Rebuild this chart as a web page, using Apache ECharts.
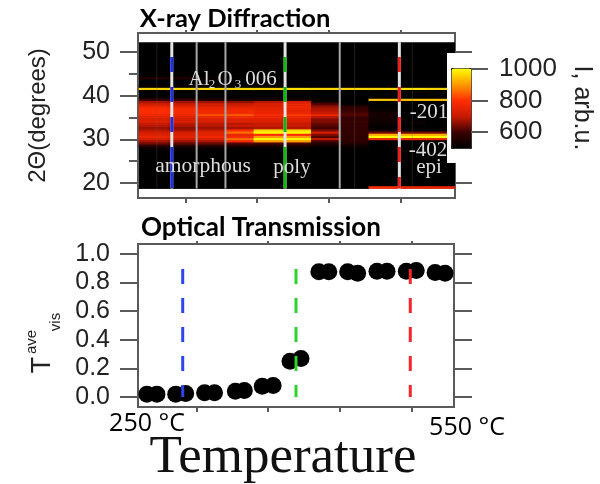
<!DOCTYPE html>
<html><head><meta charset="utf-8">
<style>html,body{margin:0;padding:0;background:#fff}#c{width:600px;height:484px}</style>
<script src="https://cdn.jsdelivr.net/npm/echarts@6/dist/echarts.min.js"></script>
</head><body><div id="c"></div>
<script>
// --- data ---
const thetaRows = [44,42,41.5,41,39.5,39,38.5,38,37.5,37,36.5,36,35.5,35,34.5,34,33.5,33,32.5,32,31.5,31,30.5,30,29.5,29,28.5,28,19];
const col0  = [555,510,960,510,520,600,680,720,760,790,790,790,780,760,730,740,700,690,670,690,720,740,760,730,680,640,580,530,500];
const col1  = [550,510,960,510,520,590,670,710,750,780,780,780,770,750,720,730,690,680,660,680,720,735,750,720,670,630,570,520,500];
const col2  = [520,510,960,510,510,560,670,720,740,760,770,775,830,770,730,730,690,690,670,700,745,745,770,735,680,630,570,520,500];
const col3  = [510,505,960,505,510,550,660,710,740,760,775,775,840,780,740,735,690,700,680,800,860,760,780,860,790,620,560,510,500];
const col4  = [500,505,960,505,510,540,690,740,745,750,760,765,790,770,740,730,700,700,690,960,1000,800,900,1000,900,610,550,510,500];
const col5  = [500,505,970,505,510,550,720,770,770,760,750,760,810,770,740,730,700,700,690,960,1000,800,900,1000,900,610,550,510,500];
const col6  = [500,505,960,505,500,510,540,620,660,680,690,700,770,690,650,650,630,620,610,650,715,650,620,700,610,560,530,500,500];
const col7  = [500,505,960,505,500,500,500,510,570,590,600,610,620,600,590,600,590,590,590,590,590,590,580,590,580,560,530,510,500];
const col8  = [500,505,960,505,500,940,510,500,500,510,520,540,540,540,530,530,520,510,510,540,640,920,1000,760,510,500,500,500,790];
const col9  = [500,505,970,505,500,940,510,500,500,500,500,500,500,500,500,520,510,500,500,520,640,920,1000,760,510,500,500,500,760];
const col10 = [500,505,960,505,500,940,510,500,500,500,500,500,500,500,500,500,500,500,500,510,640,920,1000,760,510,500,500,500,760];
const heatColumns = [col0,col1,col2,col3,col4,col5,col6,col7,col8,col9,col10];

const tempPoints = [250,260,279,289,308,318,339,348,366,377,394,405,423,433,452,462,481.5,491.6,511,521,540,550];
const transmission = [.02,.02,.02,.025,.03,.03,.04,.045,.075,.08,.25,.27,.876,.876,.876,.865,.88,.88,.88,.885,.87,.865];
const tempTicks = [300,372,444,516];
const thetaTicks = [20,30,40,50];
const thetaMinorTicks = [25,35,45];
const thetaRightTicks = [20,50];
const transTicks = [0,.2,.4,.6,.8,1];
const phaseTemps = [286,400,515];
const phaseColors = ['#1f2fe0','#12b812','#e8201c'];
const brightLines = [311,340,455];
const faintLines = [271,470,528];
const heatStops = ['#000000','#380000','#c81a00','#ff2e00','#ff9a00','#ffff00'];

// --- layout ---
const frame = '#5a5a5a', ink = '#222';
const sans = '"Liberation Sans"', serif = '"Liberation Serif"', head = 'Lato';
const heatData = [];
heatColumns.forEach((col,i)=>col.forEach((v,j)=>heatData.push([i,String(thetaRows[j]),v])));
const rowCats = []; for(let r=19;r<=52;r+=0.5) rowCats.push(String(r));

function tickAxis(extra, len, values){
  return Object.assign({
    type:'value', axisLine:{show:false,onZero:false}, splitLine:{show:false},
    axisTick:{show:true, length:len, customValues:values, lineStyle:{color:frame,width:2}},
    axisLabel:{show:false, customValues:values}
  }, extra);
}
function labelled(ax, fmt){
  ax.axisLabel = {show:true, customValues:ax.axisLabel.customValues, margin:28,
    fontFamily:sans, fontSize:25, color:ink, formatter:fmt};
  return ax;
}
const topX=[252,571], botX=[241,559], topY=[16.57,54.35], botY=[-0.07,1.07];
const series = [];
series.push({type:'heatmap', xAxisIndex:2, yAxisIndex:3, data:heatData, z:2, silent:true, progressive:0});
const vline=(t,y0,y1,color,width,dash,z,op)=>({type:'line', xAxisIndex:0, yAxisIndex:0, data:[[t,y0],[t,y1]],
  symbol:'none', silent:true, z, animation:false, clip:false,
  lineStyle:{color,width,type:dash||'solid',cap:'butt',opacity:op==null?1:op}});
faintLines.forEach(t=>series.push(vline(t,52.25,18.75,'#666',1,null,3,0.3)));
brightLines.forEach(t=>series.push(vline(t,52.25,18.75,'#a8a8a8',2,null,3)));
phaseTemps.forEach(t=>series.push(vline(t,52.25,18.75,'#e4e4e4',3,null,4)));
const topDash=[[15,15,15,15,15,15,41],[15,15,15,15,15,15,41],[15,15,15,15,15,15,15,15,11]];
phaseTemps.forEach((t,i)=>series.push(vline(t,48.85,18.75,phaseColors[i],3,topDash[i],5)));
series.push({type:'scatter', xAxisIndex:3, yAxisIndex:5, data:tempPoints.map((t,i)=>[t,transmission[i]]),
  symbolSize:17, itemStyle:{color:'#000',opacity:1}, z:3, silent:true, clip:false});
phaseTemps.forEach((t,i)=>series.push({type:'line', xAxisIndex:3, yAxisIndex:5, data:[[t,.895],[t,0]], symbol:'none',
  silent:true, z:5, lineStyle:{color:['#2b46f0','#2bd32b','#f5262a'][i],width:3,type:[15,14]}}));

const T=(text,x,y,font,opt)=>Object.assign({type:'text',x,y,z:90,silent:true,
  style:Object.assign({text,font,fill:'#ddd',align:'center',verticalAlign:'middle'},opt&&opt.style||{})},opt&&opt.el||{});

const option = {
  animation:false,
  backgroundColor:'#fff',
  grid:[
    {left:138,top:33,width:317,height:165,show:true,backgroundColor:'#fff',borderColor:frame,borderWidth:2,z:0},
    {left:139,top:42.2,width:316,height:146.4,show:true,backgroundColor:'#000',borderWidth:0,z:1},
    {left:138,top:244,width:316,height:163,show:true,backgroundColor:'#fff',borderColor:frame,borderWidth:2,z:0},
    {left:451,top:69,width:20,height:63,show:false}
  ],
  xAxis:[
    tickAxis({gridIndex:0,position:'bottom',min:topX[0],max:topX[1]},5,tempTicks),
    tickAxis({gridIndex:0,position:'top',min:topX[0],max:topX[1]},3,tempTicks),
    {gridIndex:1,type:'category',data:heatColumns.map((c,i)=>String(i)),show:false},
    tickAxis({gridIndex:2,position:'bottom',min:botX[0],max:botX[1]},5,tempTicks),
    tickAxis({gridIndex:2,position:'top',min:botX[0],max:botX[1]},3,tempTicks),
    {gridIndex:3,type:'value',min:0,max:1,show:false}
  ],
  yAxis:[
    Object.assign(labelled(tickAxis({gridIndex:0,position:'left',min:topY[0],max:topY[1]},18,thetaTicks)),
      {name:'2\u0398(degrees)',nameLocation:'middle',nameGap:88,nameRotate:90,nameTextStyle:{fontFamily:sans,fontSize:24,color:ink}}),
    tickAxis({gridIndex:0,position:'right',min:topY[0],max:topY[1]},17,thetaRightTicks),
    tickAxis({gridIndex:0,position:'left',min:topY[0],max:topY[1]},9,thetaMinorTicks),
    {gridIndex:1,type:'category',data:rowCats,show:false},
    labelled(tickAxis({gridIndex:2,position:'left',min:botY[0],max:botY[1]},18,transTicks),v=>v.toFixed(1)),
    tickAxis({gridIndex:2,position:'right',min:botY[0],max:botY[1]},18,transTicks),
    {gridIndex:3,type:'value',position:'right',min:600,max:1000,interval:200,z:200,
      axisLine:{show:false,onZero:false},splitLine:{show:false},
      axisTick:{show:true,length:17,lineStyle:{color:frame,width:2}},
      axisLabel:{show:true,margin:28,fontFamily:sans,fontSize:26,color:ink,formatter:v=>String(v)}}
  ],
  visualMap:{type:'continuous',seriesIndex:0,min:500,max:1000,left:451,top:68,itemWidth:20,itemHeight:80,
    padding:0,text:null,calculable:false,hoverLink:false,showLabel:false,borderColor:'#111',borderWidth:1,z:200,
    inRange:{color:heatStops}},
  series,
  graphic:{elements:[
    {type:'rect',shape:{x:447,y:53,width:26,height:110},style:{fill:'#fff'},z:100,silent:true},
    T('Al',199,79,'21px '+serif),T('2',212,85,'13px '+serif),T('O',225,79,'21px '+serif),T('3',238,85,'13px '+serif),T('006',261,79,'21px '+serif),
    T('amorphous',203,166,'21.5px '+serif),T('poly',292,167,'21px '+serif),
    T('-201',429,112,'21px '+serif),T('-402',428,150,'21px '+serif),T('epi',429,167,'21px '+serif),
    T('X-ray Diffraction',235,19,'bold 25.5px '+head,{style:{fill:'#000'}}),
    T('Optical Transmission',261,228,'bold 26px '+head,{style:{fill:'#000'}}),
    T('250 \u00b0C',147,424,'25px "Open Sans"',{style:{fill:'#000'}}),
    T('550 \u00b0C',467,428,'25px "Open Sans"',{style:{fill:'#000'}}),
    T('Temperature',283,458,'53px '+serif,{style:{fill:'#111'}}),
    T('T',43,365,'27px '+sans,{style:{fill:ink},el:{rotation:Math.PI/2}}),
    T('ave',32,342,'15px '+sans,{style:{fill:ink},el:{rotation:Math.PI/2}}),
    T('vis',56,322,'15px '+sans,{style:{fill:ink},el:{rotation:Math.PI/2}}),
    T('I, arb.u.',582,108,'25px '+sans,{style:{fill:ink},el:{rotation:-Math.PI/2}})
  ]}
};
const chart = echarts.init(document.getElementById('c'),null,{renderer:'canvas',width:600,height:484});
chart.setOption(option);
</script></body></html>
